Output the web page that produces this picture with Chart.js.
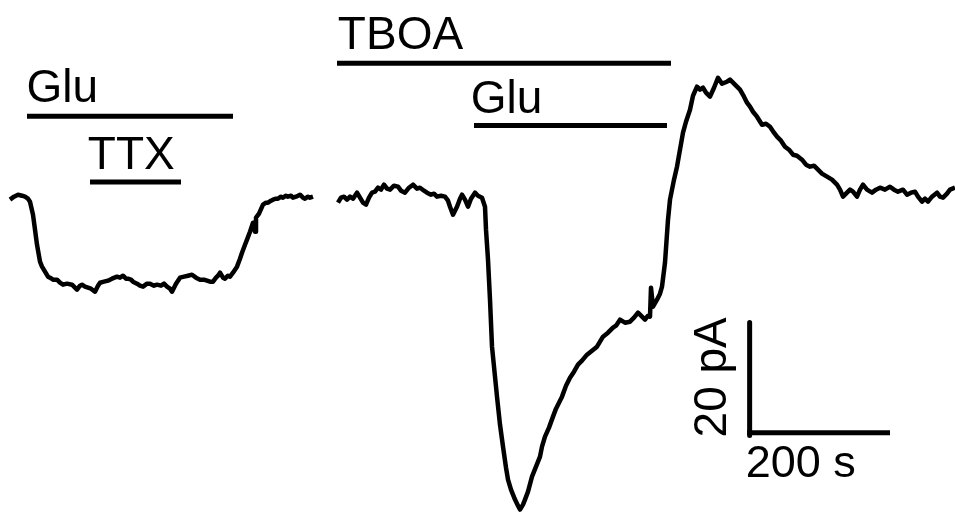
<!DOCTYPE html>
<html>
<head>
<meta charset="utf-8">
<script src="https://cdn.jsdelivr.net/npm/chart.js@4"></script>
<style>
  html, body { margin: 0; padding: 0; background: #ffffff; }
  #wrap { width: 955px; height: 514px; position: relative; }
</style>
</head>
<body>
<div id="wrap"><canvas id="chart"></canvas></div>
<script>
// time in s, current in pA (0 = resting baseline)
const leftTime = [14, 19.6, 25.2, 30.8, 35, 39.2, 42, 46.2, 49, 51.8, 56, 58.8, 63, 67.2, 70, 74.2, 79.8, 84, 88.2, 93.8, 100.8, 105, 107.8, 112, 114.8, 119, 123.2, 127.4, 133, 137.2, 140, 145.6, 151.2, 156.8, 163.8, 168, 172.2, 176.4, 179.2, 183.4, 186.2, 191.8, 196, 200.2, 205.8, 210, 215.6, 219.8, 225.4, 229.6, 233.8, 238, 240.8, 246.4, 252, 257.6, 263.2, 268.8, 274.4, 280, 285.6, 289.8, 294, 298.2, 302.4, 305.2, 308, 312.2, 315, 319.2, 322, 326.2, 331.8, 336, 338.8, 343, 345.8, 350, 354.2, 357, 358.4, 362.6, 368.2, 372.4, 375.2, 379.4, 382.2, 386.4, 389.2, 393.4, 396.2, 400.4, 403.2, 407.4, 410.2, 414.4, 417.2, 420, 424.2, 427, 431.2, 434, 438.2];
const leftCurrent = [-0.35, 0.18, 0.53, 0.35, 0.18, -0.18, -0.71, -3.01, -5.66, -8.32, -11.33, -12.21, -13.10, -13.98, -14.16, -14.51, -14.51, -15.05, -15.40, -15.22, -15.40, -15.93, -16.28, -15.58, -15.40, -15.75, -15.93, -16.11, -16.64, -15.58, -15.05, -14.87, -14.69, -14.34, -13.98, -14.16, -13.81, -14.34, -14.34, -14.51, -14.87, -15.22, -15.58, -15.75, -15.22, -15.22, -15.58, -15.40, -15.58, -15.22, -15.75, -16.11, -16.64, -15.22, -14.16, -13.98, -13.81, -13.63, -14.16, -14.51, -14.51, -14.69, -14.87, -14.87, -14.16, -13.81, -13.28, -14.16, -14.34, -13.81, -13.98, -13.28, -12.21, -10.80, -9.74, -8.32, -7.43, -6.02, -4.43, -6.02, -3.54, -2.83, -1.24, -0.89, -0.89, -0.53, -0.35, -0.18, -0.18, 0.18, 0, 0.35, 0.18, 0.35, 0, 0.18, 0.35, 0.53, 0, -0.18, 0.18, 0, 0.18];

const rightTime = [473.2, 477.4, 481.6, 485.8, 490, 494.2, 499.8, 504, 508.2, 512.4, 516.6, 520.8, 525, 529.2, 533.4, 537.6, 541.8, 546, 551.6, 557.2, 561.4, 567, 572.6, 578.2, 583.8, 588, 593.6, 597.8, 603.4, 607.6, 611.8, 617.4, 623, 627.2, 630, 634.2, 637, 639.8, 644, 646.8, 651, 655.2, 659.4, 665, 669.2, 674.8, 679, 680.4, 683.2, 686, 688.8, 695.8, 700, 704.2, 708.4, 711.2, 715.4, 721, 725.2, 728, 732.2, 735, 739.2, 744.8, 750.4, 756, 758.8, 763, 768.6, 774.2, 778.4, 782.6, 786.8, 792.4, 798, 803.6, 809.2, 814.8, 821.8, 828.8, 835.8, 840, 844.2, 851.2, 858.2, 862.4, 868, 875, 882, 887.6, 893.2, 897.4, 903, 907.2, 910, 911.4, 914.2, 919.8, 924, 926.8, 931, 935.2, 938, 943.6, 947.8, 952, 956.2, 960.4, 966, 970.2, 975.8, 980, 984.2, 988.4, 994, 999.6, 1005.2, 1010.8, 1017.8, 1022, 1026.2, 1031.8, 1036, 1041.6, 1045.8, 1050, 1054.2, 1059.8, 1066.8, 1072.4, 1078, 1083.6, 1087.8, 1093.4, 1099, 1104.6, 1110.2, 1115.8, 1122.8, 1128.4, 1134, 1139.6, 1145.2, 1150.8, 1157.8, 1164.8, 1171.8, 1176, 1180.2, 1185.8, 1190, 1194.2, 1199.8, 1204, 1208.2, 1213.8, 1220.8, 1226.4, 1232, 1239, 1246, 1251.6, 1257.2, 1264.2, 1269.8, 1275.4, 1281, 1285.2, 1290.8, 1295, 1299.2, 1304.8, 1311.8, 1316, 1320.2, 1325.8, 1330, 1337];
const rightCurrent = [-0.89, 0, 0.18, -0.35, 0.18, -0.18, 0.89, 0, -0.89, -1.24, 0, 0.89, 1.06, 1.77, 1.42, 2.30, 1.59, 1.42, 2.12, 1.95, 1.24, 0.89, 1.77, 2.30, 1.59, 1.77, 1.24, 0.89, 0.53, 0.71, 0.18, 0.35, 0.18, -0.53, -1.59, -3.01, -2.30, -1.59, -0.18, 0.53, -0.35, -1.59, -0.18, 0.89, 0.35, 0, -1.59, -5.66, -10.97, -18.05, -26.37, -35.22, -40.18, -44.07, -47.79, -49.91, -51.68, -53.45, -54.52, -55.22, -54.34, -53.45, -52.04, -49.38, -47.61, -45.84, -44.07, -42.30, -40.71, -38.76, -37.35, -36.29, -35.22, -33.28, -31.86, -30.80, -29.56, -28.85, -27.79, -27.08, -26.37, -25.49, -24.60, -23.90, -23.01, -22.66, -21.59, -22.13, -21.95, -21.24, -20.36, -20.89, -21.59, -20.89, -21.06, -15.93, -19.29, -18.05, -16.99, -15.75, -11.50, -3.89, -0.35, 3.19, 5.49, 8.50, 11.51, 13.45, 15.58, 18.05, 19.65, 19.12, 19.47, 18.59, 17.88, 19.47, 21.24, 20.18, 20.53, 20.89, 20.36, 19.65, 19.12, 17.88, 16.82, 16.11, 15.22, 14.34, 12.92, 13.10, 12.57, 11.51, 10.80, 10.09, 9.03, 8.50, 7.61, 7.43, 6.73, 5.84, 5.49, 5.66, 4.96, 4.25, 3.72, 3.19, 2.30, 1.42, 0.18, 0.89, 1.42, 1.06, 0.18, 1.42, 2.30, 1.42, 0.89, 1.42, 1.77, 1.42, 1.95, 1.42, 1.06, 1.42, 0.53, 0.89, 1.06, 0.18, -0.71, -0.18, -0.71, 0.18, 0.89, 0.18, 0, 0.71, 1.42, 1.77];

// drug application bars: [start s, end s, level pA]
const barNames = ["Glu", "TTX", "TBOA", "Glu"];
const barStart = [37.8, 126, 471.8, 663.6];
const barEnd = [326.2, 253.4, 939.4, 933.8];
const barLevel = [14.4, 2.8, 23.8, 12.8];
const barLabelX = [37, 123, 473, 659];
const barLabelY = [17.0, 5.1, 26.4, 15.0];

// scale bar: 200 s x 20 pA
const scaleTime = [1046, 1246];
const scaleCurrent = [-42.1, -22.1];

const toPoints = (xs, ys) => xs.map((x, i) => ({ x: x, y: ys[i] }));

const datasets = [
  { data: toPoints(leftTime, leftCurrent), borderWidth: 4.5 },
  { data: toPoints(rightTime, rightCurrent), borderWidth: 4.5 },
];
barNames.forEach((name, i) => {
  datasets.push({
    data: [{ x: barStart[i], y: barLevel[i] }, { x: barEnd[i], y: barLevel[i] }],
    borderWidth: 5,
  });
});
datasets.push({
  data: [{ x: 1049.5, y: scaleCurrent[1] }, { x: 1049.5, y: scaleCurrent[0] }],
  borderWidth: 5,
});
datasets.push({
  data: [{ x: scaleTime[0], y: -41.6 }, { x: scaleTime[1], y: -41.6 }],
  borderWidth: 5,
});
datasets.forEach((d) => {
  d.borderColor = "#000000";
  d.pointRadius = 0;
  d.tension = 0;
  d.fill = false;
  d.borderJoinStyle = "round";
});

const labelPlugin = {
  id: "labels",
  afterDatasetsDraw(chart) {
    const ctx = chart.ctx;
    const xs = chart.scales.x;
    const ys = chart.scales.y;
    ctx.save();
    ctx.fillStyle = "#000000";
    ctx.font = "46px 'Liberation Sans', Arial, sans-serif";
    ctx.textBaseline = "alphabetic";
    ctx.textAlign = "left";
    barNames.forEach((name, i) => {
      ctx.fillText(name, xs.getPixelForValue(barLabelX[i]), ys.getPixelForValue(barLabelY[i]));
    });
    ctx.font = "45px 'Liberation Sans', Arial, sans-serif";
    ctx.fillText(scaleTime[1] - scaleTime[0] + " s", xs.getPixelForValue(1044), ys.getPixelForValue(-49.4));
    ctx.font = "46px 'Liberation Sans', Arial, sans-serif";
    ctx.translate(xs.getPixelForValue(1016), ys.getPixelForValue(-31.8));
    ctx.rotate(-Math.PI / 2);
    ctx.textAlign = "center";
    ctx.fillText(scaleCurrent[1] - scaleCurrent[0] + " pA", 0, 0);
    ctx.restore();
  },
};

new Chart(document.getElementById("chart"), {
  type: "line",
  data: { datasets: datasets },
  options: {
    responsive: true,
    maintainAspectRatio: false,
    animation: false,
    layout: { padding: 0 },
    plugins: { legend: { display: false }, tooltip: { enabled: false } },
    scales: {
      x: { type: "linear", min: 0, max: 1337, display: false },
      y: { type: "linear", min: -56, max: 35, display: false },
    },
  },
  plugins: [labelPlugin],
});
</script>
</body>
</html>
